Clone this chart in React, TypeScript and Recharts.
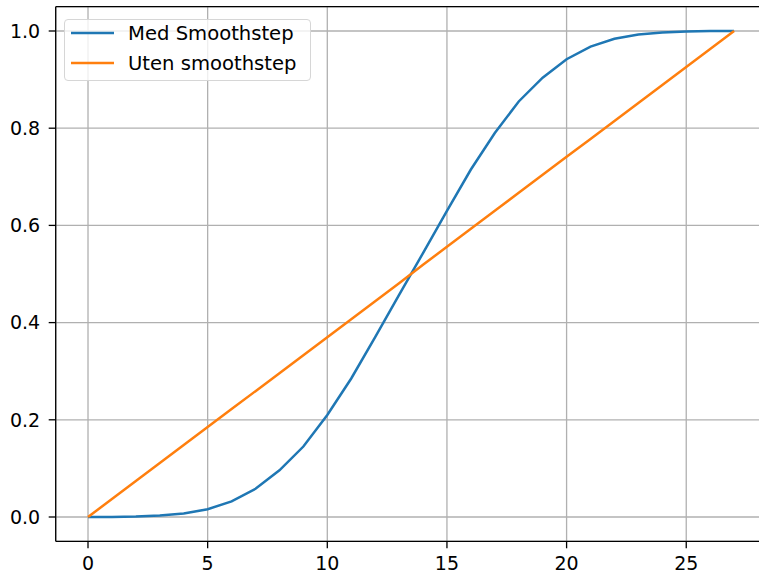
import { LineChart, Line, XAxis, YAxis, CartesianGrid, Legend, ReferenceLine } from "recharts";

const steps = [0, 1, 2, 3, 4, 5, 6, 7, 8, 9, 10, 11, 12, 13, 14, 15, 16, 17, 18, 19, 20, 21, 22, 23, 24, 25, 26, 27];

// blue curve
const medSmoothstep = [
  0, 0.0001, 0.0008, 0.003, 0.007, 0.016, 0.032, 0.058, 0.096, 0.145, 0.21, 0.285, 0.37, 0.457,
  0.543, 0.63, 0.715, 0.79, 0.855, 0.904, 0.942, 0.968, 0.984, 0.993, 0.997, 0.9992, 0.9999, 1,
];

// orange straight line
const utenSmoothstep = [
  0, 0.037, 0.074, 0.111, 0.148, 0.185, 0.222, 0.259, 0.296, 0.333, 0.37, 0.407, 0.444, 0.481,
  0.519, 0.556, 0.593, 0.63, 0.667, 0.704, 0.741, 0.778, 0.815, 0.852, 0.889, 0.926, 0.963, 1,
];

const xTicks = [0, 5, 10, 15, 20, 25];
const yTicks = [0, 0.2, 0.4, 0.6, 0.8, 1.0];

const data = steps.map((x, i) => ({
  x,
  med: medSmoothstep[i],
  uten: utenSmoothstep[i],
}));

const font = "'DejaVu Sans', sans-serif";

const legendItems = [
  { label: "Med Smoothstep", color: "#1f77b4" },
  { label: "Uten smoothstep", color: "#ff7f0e" },
];

const LegendBox = () => (
  <div
    style={{
      width: 247,
      height: 62,
      boxSizing: "border-box",
      border: "1px solid #d6d6d6",
      borderRadius: 4,
      background: "rgba(255,255,255,0.8)",
      fontFamily: font,
      fontSize: 19.6,
      color: "#000",
    }}
  >
    <div style={{ marginTop: -2 }}>
      {legendItems.map((item) => (
        <div key={item.label} style={{ display: "flex", alignItems: "center", height: 30 }}>
          <svg width={63} height={30} style={{ flex: "none" }}>
            <line x1={6} x2={49} y1={15} y2={15} stroke={item.color} strokeWidth={2.5} />
          </svg>
          <span style={{ whiteSpace: "nowrap" }}>{item.label}</span>
        </div>
      ))}
    </div>
  </div>
);

export default function App() {
  return (
    <div
      style={{
        position: "fixed",
        left: 0,
        top: 0,
        width: 759,
        height: 575,
        overflow: "hidden",
        background: "#fff",
      }}
    >
      <LineChart
        width={790}
        height={575}
        data={data}
        margin={{ top: 6.7, right: 23.6, bottom: 0, left: 0 }}
      >
        <CartesianGrid stroke="#b0b0b0" strokeWidth={1.3} />
        <XAxis
          type="number"
          dataKey="x"
          domain={[-1.35, 28.35]}
          ticks={xTicks}
          allowDataOverflow
          height={33.7}
          tickSize={7}
          tickMargin={8}
          axisLine={{ stroke: "#000", strokeWidth: 1.3 }}
          tickLine={{ stroke: "#000", strokeWidth: 1.3 }}
          tick={{ fill: "#000", fontSize: 19, fontFamily: font }}
        />
        <YAxis
          type="number"
          domain={[-0.05, 1.05]}
          ticks={yTicks}
          allowDataOverflow
          width={55.7}
          tickSize={7}
          tickMargin={8.5}
          tickFormatter={(v: number) => v.toFixed(1)}
          axisLine={{ stroke: "#000", strokeWidth: 1.3 }}
          tickLine={{ stroke: "#000", strokeWidth: 1.3 }}
          tick={{ fill: "#000", fontSize: 19, fontFamily: font }}
        />
        <ReferenceLine y={1.05} stroke="#000" strokeWidth={1.3} />
        <Line
          type="linear"
          dataKey="med"
          stroke="#1f77b4"
          strokeWidth={2.5}
          dot={false}
          isAnimationActive={false}
        />
        <Line
          type="linear"
          dataKey="uten"
          stroke="#ff7f0e"
          strokeWidth={2.5}
          dot={false}
          isAnimationActive={false}
        />
        <Legend
          layout="vertical"
          verticalAlign="middle"
          align="center"
          content={() => <LegendBox />}
          wrapperStyle={{ left: 64, top: 19, width: 247, height: 62 }}
        />
      </LineChart>
    </div>
  );
}
